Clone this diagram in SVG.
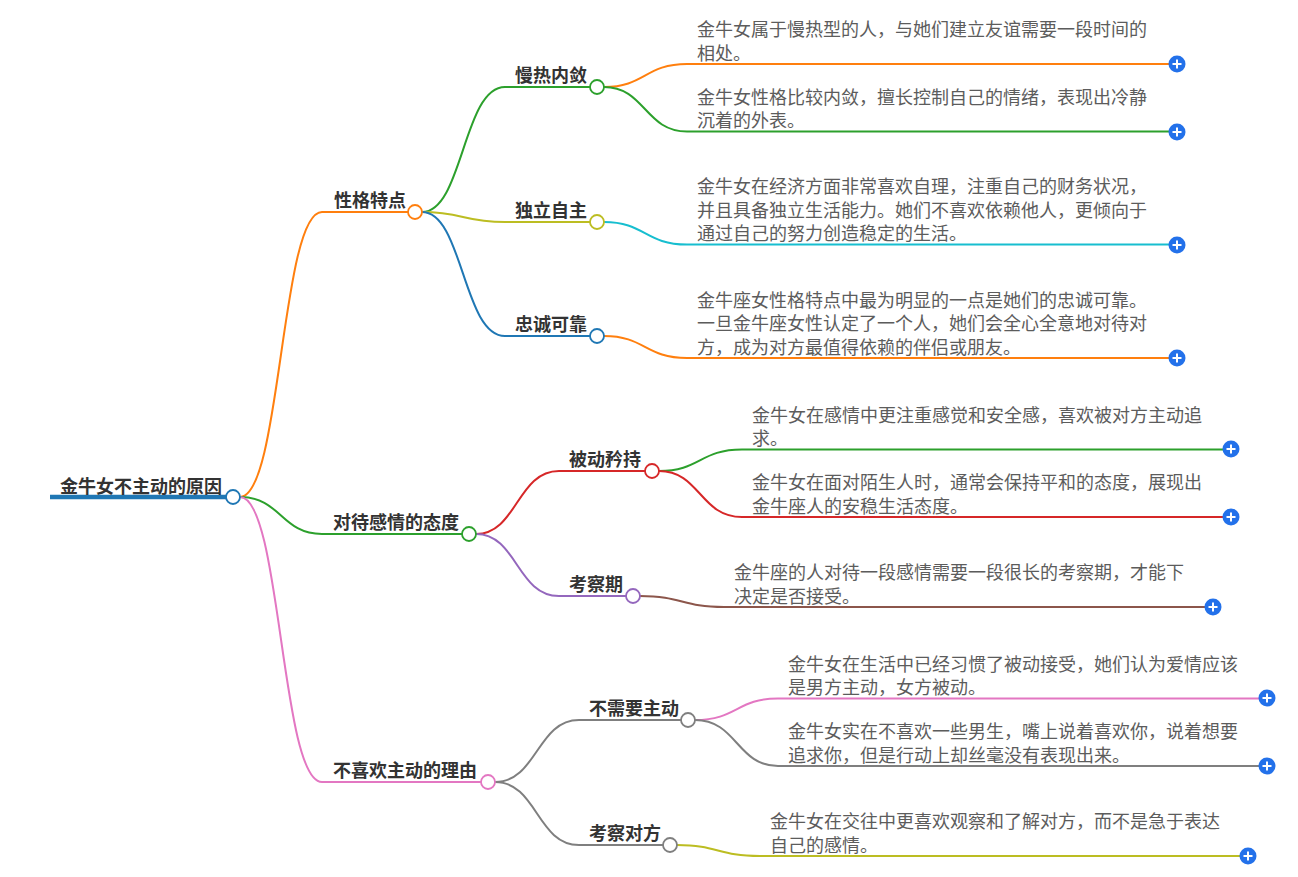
<svg xmlns="http://www.w3.org/2000/svg" width="1298" height="877" viewBox="0 0 1298 877">
<style>
.lbl{font-family:"Noto Sans CJK SC","Noto Sans",sans-serif;font-size:18px;font-weight:bold;fill:#333}
.leaf{font-family:"Noto Sans CJK SC","Noto Sans",sans-serif;font-size:18px;fill:#5c5c5c}
.c path{fill:none;stroke-width:2}
.dot{fill:#fff;stroke-width:1.8}
</style>
<defs>
<g id="pl"><circle r="8.5" fill="#2371ea"/><path d="M-4.5 0H4.5M0 -4.5V4.5" stroke="#fff" stroke-width="2"/></g>
</defs>
<rect width="1298" height="877" fill="#fff"/>
<g id="connectors" class="c">
<path d="M50 497H226" stroke="#1f77b4" style="stroke-width:4.5"/>
<path d="M240 497C281 497 281 212 322 212H408" stroke="#ff7f0e"/>
<path d="M240 497C281 497 281 534 322 534H462" stroke="#2ca02c"/>
<path d="M240 497C281 497 281 782 322 782H481" stroke="#e377c2"/>
<path d="M422 212C463 212 463 87 505 87H590" stroke="#2ca02c"/>
<path d="M422 212C463 212 463 222 505 222H590" stroke="#bcbd22"/>
<path d="M422 212C463 212 463 336 505 336H590" stroke="#1f77b4"/>
<path d="M604 87C645 87 645 64 687 64H1169" stroke="#ff7f0e"/>
<path d="M604 87C645 87 645 131.5 687 131.5H1169" stroke="#2ca02c"/>
<path d="M604 222C645 222 645 244.5 687 244.5H1169" stroke="#17becf"/>
<path d="M604 336C645 336 645 358 687 358H1169" stroke="#ff7f0e"/>
<path d="M476 534C517 534 517 471 559 471H645" stroke="#d62728"/>
<path d="M476 534C517 534 517 596 559 596H626" stroke="#9467bd"/>
<path d="M659 471C700 471 700 449.5 742 449.5H1223" stroke="#2ca02c"/>
<path d="M659 471C700 471 700 517 742 517H1223" stroke="#d62728"/>
<path d="M640 596C682 596 682 607 724 607H1205" stroke="#8c564b"/>
<path d="M495 782C537 782 537 720 579 720H681" stroke="#7f7f7f"/>
<path d="M495 782C537 782 537 845 579 845H663" stroke="#7f7f7f"/>
<path d="M695 720C737 720 737 698.5 778 698.5H1259" stroke="#e377c2"/>
<path d="M695 720C737 720 737 766 778 766H1259" stroke="#7f7f7f"/>
<path d="M677 845C718 845 718 856 760 856H1240" stroke="#bcbd22"/>
</g>
<g id="root"><text class="lbl" x="60" y="493">金牛女不主动的原因</text><circle class="dot" cx="233" cy="497" r="7" stroke="#1f77b4"/></g>
<g id="n1"><text class="lbl" x="334" y="206.5">性格特点</text><circle class="dot" cx="415" cy="212" r="7" stroke="#ff7f0e"/></g>
<g id="n2"><text class="lbl" x="333" y="528.5">对待感情的态度</text><circle class="dot" cx="469" cy="534" r="7" stroke="#2ca02c"/></g>
<g id="n3"><text class="lbl" x="333" y="776.5">不喜欢主动的理由</text><circle class="dot" cx="488" cy="782" r="7" stroke="#e377c2"/></g>
<g id="n11"><text class="lbl" x="515" y="81.5">慢热内敛</text><circle class="dot" cx="597" cy="87" r="7" stroke="#2ca02c"/></g>
<g id="n12"><text class="lbl" x="515" y="216.5">独立自主</text><circle class="dot" cx="597" cy="222" r="7" stroke="#bcbd22"/></g>
<g id="n13"><text class="lbl" x="515" y="330.5">忠诚可靠</text><circle class="dot" cx="597" cy="336" r="7" stroke="#1f77b4"/></g>
<g id="n21"><text class="lbl" x="569" y="465.5">被动矜持</text><circle class="dot" cx="652" cy="471" r="7" stroke="#d62728"/></g>
<g id="n22"><text class="lbl" x="569" y="590.5">考察期</text><circle class="dot" cx="633" cy="596" r="7" stroke="#9467bd"/></g>
<g id="n31"><text class="lbl" x="589" y="714.5">不需要主动</text><circle class="dot" cx="688" cy="720" r="7" stroke="#7f7f7f"/></g>
<g id="n32"><text class="lbl" x="589" y="839.5">考察对方</text><circle class="dot" cx="670" cy="845" r="7" stroke="#7f7f7f"/></g>
<g id="leafA"><text class="leaf"><tspan x="697" y="36">金牛女属于慢热型的人，与她们建立友谊需要一段时间的</tspan><tspan x="697" y="59.5">相处。</tspan></text><use href="#pl" x="1177" y="64"/></g>
<g id="leafB"><text class="leaf"><tspan x="697" y="103.5">金牛女性格比较内敛，擅长控制自己的情绪，表现出冷静</tspan><tspan x="697" y="127">沉着的外表。</tspan></text><use href="#pl" x="1177" y="132"/></g>
<g id="leafC"><text class="leaf"><tspan x="697" y="193">金牛女在经济方面非常喜欢自理，注重自己的财务状况，</tspan><tspan x="697" y="216.5">并且具备独立生活能力。她们不喜欢依赖他人，更倾向于</tspan><tspan x="697" y="240">通过自己的努力创造稳定的生活。</tspan></text><use href="#pl" x="1177" y="245"/></g>
<g id="leafD"><text class="leaf"><tspan x="697" y="306.5">金牛座女性格特点中最为明显的一点是她们的忠诚可靠。</tspan><tspan x="697" y="330">一旦金牛座女性认定了一个人，她们会全心全意地对待对</tspan><tspan x="697" y="353.5">方，成为对方最值得依赖的伴侣或朋友。</tspan></text><use href="#pl" x="1177" y="358"/></g>
<g id="leafE"><text class="leaf"><tspan x="752" y="421.5">金牛女在感情中更注重感觉和安全感，喜欢被对方主动追</tspan><tspan x="752" y="445">求。</tspan></text><use href="#pl" x="1231" y="449"/></g>
<g id="leafF"><text class="leaf"><tspan x="752" y="489">金牛女在面对陌生人时，通常会保持平和的态度，展现出</tspan><tspan x="752" y="512.5">金牛座人的安稳生活态度。</tspan></text><use href="#pl" x="1231" y="517"/></g>
<g id="leafG"><text class="leaf"><tspan x="734" y="579">金牛座的人对待一段感情需要一段很长的考察期，才能下</tspan><tspan x="734" y="602.5">决定是否接受。</tspan></text><use href="#pl" x="1213" y="607"/></g>
<g id="leafH"><text class="leaf"><tspan x="788" y="670.5">金牛女在生活中已经习惯了被动接受，她们认为爱情应该</tspan><tspan x="788" y="694">是男方主动，女方被动。</tspan></text><use href="#pl" x="1267" y="698"/></g>
<g id="leafI"><text class="leaf"><tspan x="788" y="738">金牛女实在不喜欢一些男生，嘴上说着喜欢你，说着想要</tspan><tspan x="788" y="761.5">追求你，但是行动上却丝毫没有表现出来。</tspan></text><use href="#pl" x="1267" y="766"/></g>
<g id="leafJ"><text class="leaf"><tspan x="770" y="828">金牛女在交往中更喜欢观察和了解对方，而不是急于表达</tspan><tspan x="770" y="851.5">自己的感情。</tspan></text><use href="#pl" x="1248" y="856"/></g>
</svg>
